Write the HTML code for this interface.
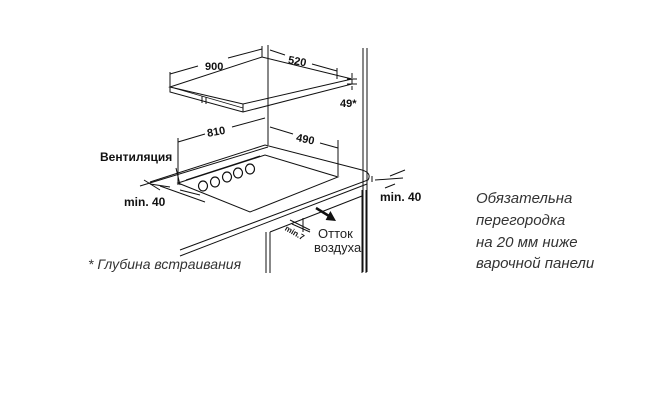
<!DOCTYPE html><html><head><style>body{margin:0;background:#fff}svg{display:block}</style></head><body>
<svg width="650" height="400" viewBox="0 0 650 400" xmlns="http://www.w3.org/2000/svg" font-family="Liberation Sans, sans-serif">
<g stroke="#111" fill="none" stroke-width="1">
<line x1="363" y1="48" x2="363" y2="272"/><line x1="367" y1="48" x2="367" y2="272"/>
<polygon points="170,87 262,57 352,79 243,104" fill="#fff"/>
<polyline points="170,87 170,92 243,112 352,84 352,79" />
<line x1="243" y1="104" x2="243" y2="112"/>
<line x1="174" y1="88" x2="243" y2="108" stroke-width="0.7"/>
<line x1="202" y1="96" x2="202" y2="103"/><line x1="206" y1="97" x2="206" y2="104"/>
<line x1="170" y1="72" x2="170" y2="87"/><line x1="262" y1="46" x2="262" y2="57"/>
<line x1="268" y1="45" x2="268" y2="145"/>
<line x1="337" y1="68" x2="337" y2="79"/>
<line x1="170" y1="74" x2="198" y2="66"/><line x1="228" y1="58" x2="262" y2="49"/>
<line x1="270" y1="50" x2="285" y2="55"/><line x1="312" y1="64" x2="337" y2="71"/>
<line x1="352" y1="73" x2="352" y2="78"/><line x1="352" y1="86" x2="352" y2="90"/>
<line x1="347" y1="79" x2="357" y2="79"/><line x1="347" y1="84" x2="357" y2="84"/>
<line x1="178" y1="138" x2="178" y2="185"/><line x1="338" y1="140" x2="338" y2="176"/>
<line x1="178" y1="142" x2="205" y2="134"/><line x1="232" y1="127" x2="265" y2="118"/>
<line x1="270" y1="127" x2="293" y2="134"/><line x1="320" y1="143" x2="338" y2="148"/>
<polyline points="150,182 265,145 362,170"/>
<path d="M362,170 Q372,173 368,180 L180,250"/>
<line x1="140" y1="186" x2="268" y2="147"/>
<line x1="372" y1="176" x2="372" y2="182"/>
<line x1="367" y1="184" x2="180" y2="256"/>
<line x1="160" y1="186" x2="205" y2="202"/>
<polygon points="178,183 265,155 338,177 250,212"/>
<line x1="176" y1="168" x2="180" y2="185"/>
<line x1="186" y1="180" x2="260" y2="156"/>
<g stroke-width="1.2">
<ellipse cx="203" cy="186" rx="4.5" ry="5"/><ellipse cx="215" cy="182" rx="4.5" ry="5"/><ellipse cx="227" cy="177" rx="4.5" ry="5"/><ellipse cx="238" cy="173" rx="4.5" ry="5"/><ellipse cx="250" cy="169" rx="4.5" ry="5"/>
</g>
<line x1="144" y1="180" x2="160" y2="190"/><line x1="150" y1="184" x2="170" y2="187"/><line x1="180" y1="190" x2="200" y2="195"/>
<line x1="375" y1="180" x2="403" y2="178"/><line x1="385" y1="188" x2="395" y2="184"/><line x1="390" y1="176" x2="405" y2="170"/>
<line x1="266" y1="232" x2="266" y2="273"/><line x1="270" y1="232" x2="270" y2="273"/>
<line x1="362" y1="190" x2="362" y2="273"/><line x1="366" y1="190" x2="366" y2="273"/>
<line x1="270" y1="232" x2="362" y2="196"/>
<line x1="290" y1="220" x2="310" y2="230"/><line x1="292" y1="224" x2="310" y2="232"/>
<line x1="303" y1="218" x2="303" y2="232"/>
</g>
<line x1="316" y1="208" x2="329" y2="216" stroke="#111" stroke-width="2.5"/>
<path d="M336,221 L330.4,211 L325.6,220 Z" fill="#111"/>
<g fill="#111" font-weight="bold" font-size="12">
<text x="100" y="161">Вентиляция</text>
<text x="124" y="206">min. 40</text>
<text x="380" y="201">min. 40</text>
<text x="205" y="70" font-size="11">900</text>
<text x="288" y="65" font-size="11" transform="rotate(10 298 62)">520</text>
<text x="340" y="107" font-size="11">49*</text>
<text x="207" y="135" font-size="11" transform="rotate(-10 218 132)">810</text>
<text x="296" y="143" font-size="11" transform="rotate(12 306 140)">490</text>
<text x="284" y="233" font-size="8" transform="rotate(30 290 232)">min.7</text>
</g>
<g fill="#222" font-size="13">
<text x="318" y="238">Отток</text><text x="314" y="252">воздуха</text>
</g>
<g fill="#333" font-size="14" font-style="italic">
<text x="88" y="269">* Глубина встраивания</text>
</g>
<g fill="#333" font-size="15" font-style="italic">
<text x="476" y="203">Обязательна</text>
<text x="476" y="225">перегородка</text>
<text x="476" y="247">на 20 мм ниже</text>
<text x="476" y="268">варочной панели</text>
</g>
</svg></body></html>
